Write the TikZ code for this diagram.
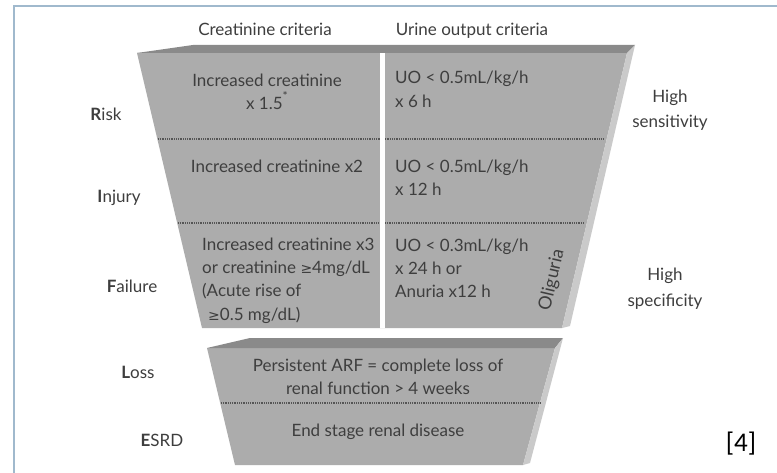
\documentclass[tikz,border=0pt]{standalone}
\usepackage{fontspec}
\setmainfont{Lato}
\newfontfamily\symfont{DejaVu Sans}
\newfontfamily\reffont{Carlito}
\newcommand{\geqsym}{{\symfont\fontsize{14}{14}\selectfont ≥}}
\definecolor{frameblue}{RGB}{160,185,205}
\definecolor{faceg}{RGB}{172,172,172}
\definecolor{topg}{RGB}{138,138,138}
\definecolor{sideg}{RGB}{202,202,202}
\definecolor{txtg}{RGB}{62,62,62}
\definecolor{dotg}{RGB}{85,85,85}
\begin{document}
\begin{tikzpicture}[x=1pt,y={(0pt,-1pt)},
  lbl/.style={inner sep=0pt,text=txtg,font=\fontsize{17}{20}\selectfont,anchor=base},
  lbll/.style={lbl,anchor=base west},
  dotline/.style={draw=dotg,line width=1.3pt,dash pattern=on 0.9pt off 0.9pt},
  face/.style={fill=faceg},
  topface/.style={fill=topg},
  sideface/.style={fill=sideg}]
\useasboundingbox (0,0) rectangle (777,473);
\fill[white] (0,0) rectangle (777,473);
% frame
\draw[frameblue,line width=2pt] (14,473) -- (14,6) -- (777,6);

% upper funnel block
\fill[face] (137,53) -- (627,53) -- (562,328) -- (202,328) -- cycle;
\fill[topface] (137,53) -- (193,45) -- (635,45) -- (627,53) -- cycle;
\fill[sideface] (627,53) -- (635,45) -- (570,326) -- (562,328) -- cycle;
\draw[dotline] (158,139) -- (604,139);
\draw[dotline] (178,223) -- (584,223);
\fill[white] (380,53) rectangle (385,328);

% lower block
\fill[face] (207,348) -- (555,348) -- (523,465) -- (235,465) -- cycle;
\fill[topface] (207,348) -- (250,338) -- (563,338) -- (555,348) -- cycle;
\fill[sideface] (555,348) -- (563,338) -- (530,463) -- (523,465) -- cycle;
\draw[dotline] (221,403) -- (540,403);

% headers
\node[lbl] (hc) at (265,36) {Creatinine criteria};
\node[lbl] (hu) at (472,36) {Urine output criteria};

% stage labels
\node[lbl] (risk) at (106,121) {\textbf{R}isk};
\node[lbl] (inj) at (119,203) {\textbf{I}njury};
\node[lbl] (fail) at (132,293) {\textbf{F}ailure};
\node[lbl] (loss) at (138,378) {\textbf{L}oss};
\node[lbl] (esrd) at (162,446) {\textbf{E}SRD};

% creatinine criteria
\node[lbl] (c1a) at (267,87) {Increased creatinine};
\node[lbl] (c1b) at (267,110) {x 1.5\raisebox{0.55em}{\fontsize{12}{12}\selectfont *}};
\node[lbl] (c2) at (277,173) {Increased creatinine x2};
\node[lbll] (c3a) at (202,251) {Increased creatinine x3};
\node[lbll] (c3b) at (202,274) {or creatinine \geqsym4mg/dL};
\node[lbll] (c3c) at (202,297) {(Acute rise of};
\node[lbll] (c3d) at (208,320) {\geqsym0.5 mg/dL)};

% urine output criteria
\node[lbll] (u1a) at (395,84) {UO < 0.5mL/kg/h};
\node[lbll] (u1b) at (395,108) {x 6 h};
\node[lbll] (u2a) at (395,173) {UO < 0.5mL/kg/h};
\node[lbll] (u2b) at (395,196) {x 12 h};
\node[lbll] (u3a) at (395,252) {UO < 0.3mL/kg/h};
\node[lbll] (u3b) at (395,275) {x 24 h or};
\node[lbll] (u3c) at (395,298) {Anuria x12 h};
\node[lbl,anchor=center,rotate=77,font=\fontsize{18}{20}\selectfont] (olig) at (552,280) {Oliguria};

% sensitivity / specificity
\node[lbl] (hs1) at (670,103) {High};
\node[lbl] (hs2) at (670,128) {sensitivity};
\node[lbl] (hp1) at (665,281) {High};
\node[lbl] (hp2) at (665,306) {specificity};

% lower block texts
\node[lbl] (l1) at (378,371) {Persistent ARF = complete loss of};
\node[lbl] (l2) at (378,394) {renal function > 4 weeks};
\node[lbl] (l3) at (378,436) {End stage renal disease};

% reference mark
\node[inner sep=0pt,anchor=base,font=\reffont\fontsize{27}{27}\selectfont] (ref) at (741,451) {[4]};
\end{tikzpicture}
\end{document}
